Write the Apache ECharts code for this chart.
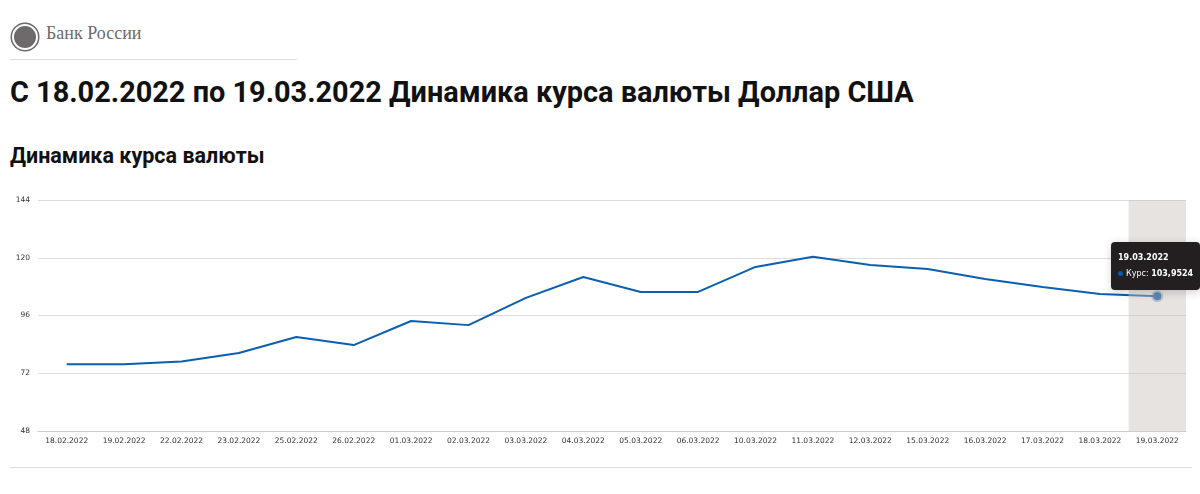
<!DOCTYPE html>
<html><head><meta charset="utf-8">
<script src="https://cdn.jsdelivr.net/npm/echarts@6/dist/echarts.min.js"></script>
<style>
body{margin:0;width:1200px;height:494px;background:#fff;font-family:"Noto Sans",Roboto,sans-serif;position:relative;overflow:hidden}
#logo{position:absolute;left:12px;top:24px;width:22px;height:22px;border-radius:50%;background:#6e6a6b;border:2px solid #fff;box-shadow:0 0 0 1.5px #6e6a6b}
#bank{position:absolute;left:46px;top:23px;font-family:"Liberation Serif",serif;font-size:18px;color:#6e6a6b}
#hr1{position:absolute;left:10px;top:59px;width:287px;border-top:1px solid #ddd}
#t1{position:absolute;left:10px;top:75px;font-size:28.9px;font-weight:700;color:#111;font-family:Roboto,sans-serif}
#t2{position:absolute;left:10px;top:143px;font-size:21.5px;font-weight:700;color:#111;font-family:Roboto,sans-serif}
#c{position:absolute;left:0;top:185px;width:1200px;height:270px}
#hr2{position:absolute;left:10px;top:467px;width:1182px;border-top:1px solid #ddd}
</style></head><body>
<div id="logo"></div><div id="bank">Банк России</div><div id="hr1"></div>
<div id="t1">С 18.02.2022 по 19.03.2022 Динамика курса валюты Доллар США</div>
<div id="t2">Динамика курса валюты</div>
<div id="c"></div><div id="hr2"></div>
<script>
const categories=["18.02.2022","19.02.2022","22.02.2022","23.02.2022","25.02.2022","26.02.2022","01.03.2022","02.03.2022","03.03.2022","04.03.2022","05.03.2022","06.03.2022","10.03.2022","11.03.2022","12.03.2022","15.03.2022","16.03.2022","17.03.2022","18.03.2022","19.03.2022"];
const rates=[75.75,75.75,76.9,80.4,87.1,83.7,93.7,92.0,103.3,112.0,105.8,105.8,116.2,120.4,117.0,115.3,111.2,107.8,104.9,103.9524];
const yTicks=[48,72,96,120,144];
const chart=echarts.init(document.getElementById('c'));
chart.setOption({
 animation:false,
 grid:{left:38,right:14,top:15,bottom:24},
 tooltip:{trigger:'axis',alwaysShowContent:true,backgroundColor:'#231f20',borderWidth:0,padding:[8,7],
  textStyle:{color:'#fff',fontSize:8,fontFamily:'DejaVu Sans',lineHeight:15},
  extraCssText:'line-height:16px;',
  axisPointer:{type:'shadow',shadowStyle:{color:'rgba(200,193,189,0.45)'}},
  position:()=>[1111,57],
  formatter:ps=>'<b>'+ps[0].name+'</b><br/><span style="display:inline-block;width:5px;height:5px;border-radius:50%;background:#0a5bb0;margin-right:3px"></span>Курс: <b>'+String(ps[0].value).replace('.',',')+'</b>'},
 xAxis:{type:'category',data:categories,axisTick:{show:false},axisLine:{lineStyle:{color:'#ccc'}},
  axisLabel:{fontSize:7.5,color:'#333',fontFamily:'DejaVu Sans',interval:0,margin:6}},
 yAxis:{type:'value',min:48,max:144,interval:24,axisLabel:{fontSize:7.5,color:'#333',fontFamily:'DejaVu Sans',formatter:v=>yTicks.includes(v)?v:''},
  splitLine:{lineStyle:{color:'#ddd'}}},
 series:[{type:'line',data:rates,smooth:false,symbol:'circle',symbolSize:8,showSymbol:false,
  lineStyle:{color:'#0a56a0',width:2},itemStyle:{color:'#0a56a0',borderColor:'rgba(10,91,176,0.35)',borderWidth:4},
  emphasis:{scale:false,itemStyle:{color:'#0a56a0',borderColor:'rgba(10,91,176,0.35)',borderWidth:4}}}]
});
setTimeout(()=>chart.dispatchAction({type:'showTip',seriesIndex:0,dataIndex:19}),50);
</script></body></html>
